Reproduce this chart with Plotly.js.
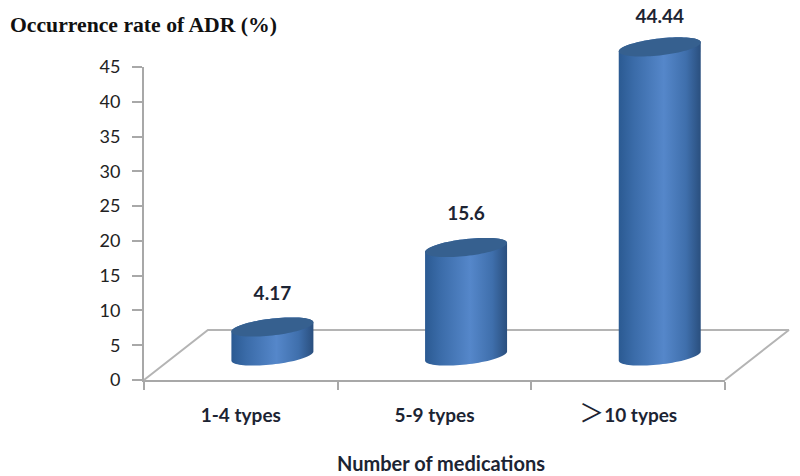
<!DOCTYPE html>
<html>
<head>
<meta charset="utf-8">
<script src="https://cdn.plot.ly/plotly-3.0.1.min.js"></script>
<style>html,body{margin:0;padding:0;background:#fff}</style>
</head>
<body>
<div id="chart" style="width:800px;height:476px"></div>
<script>
var categories = ['1-4 types', '5-9 types', '>10 types'];
var tickLabels = ['1-4 types', '5-9 types', '<span style="font-family:\'Noto Sans CJK SC\';font-size:25px;font-weight:normal">＞</span>10 types'];
var values = [4.17, 15.6, 44.44];
var valueLabels = ['4.17', '15.6', '44.44'];
var yTicks = [0, 5, 10, 15, 20, 25, 30, 35, 40, 45];

// 3D look of the chart, in axis units
var shiftX = 0.163, baseY = 3.45, radiusX = 0.2117, radiusY = 1.22, tilt = 0.65;
var floorDepthX = 0.33, floorDepthY = 7.18;
var labelGaps = [4.6, 4.6, 4.1];

// page frame of the main axes
var W = 800, H = 476, L = 144, R = 725, T = 67, B = 380;
var xRange = [-0.5, 2.5], yRange = [0, 45];
var unitX = (R - L) / (xRange[1] - xRange[0]), unitY = (B - T) / (yRange[1] - yRange[0]);

function ell(cx, cy, from, to, n) {
  var xs = [], ys = [];
  for (var i = 0; i <= n; i++) {
    var t = from + (to - from) * i / n;
    xs.push(cx + radiusX * Math.cos(t));
    ys.push(cy + radiusY * Math.sin(t) + tilt * Math.cos(t));
  }
  return {x: xs, y: ys};
}

var traces = [];
// real bars: carry categories and values, sit under the rounded shading
traces.push({
  type: 'bar', x: categories, y: values, base: baseY,
  width: 0.38, offset: -0.19 + shiftX,
  marker: {color: 'rgba(74,120,181,0)', line: {width: 0}},
  hoverinfo: 'skip', showlegend: false
});
// floor
traces.push({
  type: 'scatter', mode: 'lines', xaxis: 'x2', yaxis: 'y2',
  x: [-0.5, -0.5 + floorDepthX, 2.5 + floorDepthX, 2.5],
  y: [0, floorDepthY, floorDepthY, 0],
  line: {color: '#b4b4b4', width: 2}, hoverinfo: 'skip', showlegend: false
});
values.forEach(function (v, i) {
  var cx = i + shiftX, top = baseY + v;
  var low = ell(cx, baseY, Math.PI, 2 * Math.PI, 40);
  var up = ell(cx, top, 0, Math.PI, 40);
  traces.push({
    type: 'scatter', mode: 'none', xaxis: 'x2', yaxis: 'y2',
    x: low.x.concat(up.x), y: low.y.concat(up.y), fill: 'toself',
    fillgradient: {type: 'horizontal', colorscale: [
      [0, '#2b5a92'], [0.18, '#3a6ba8'], [0.55, '#5587ca'], [0.82, '#3f6fac'], [1, '#2a4f7e']
    ]},
    hoverinfo: 'skip', showlegend: false
  });
  var cap = ell(cx, top, 0, 2 * Math.PI, 80);
  traces.push({
    type: 'scatter', mode: 'none', xaxis: 'x2', yaxis: 'y2',
    x: cap.x, y: cap.y, fill: 'toself', fillcolor: '#36608f',
    hoverinfo: 'skip', showlegend: false
  });
});
// value labels
traces.push({
  type: 'scatter', mode: 'text', xaxis: 'x2', yaxis: 'y2',
  x: values.map(function (v, i) { return i + shiftX; }),
  y: values.map(function (v, i) { return v + baseY + labelGaps[i]; }),
  text: valueLabels, textposition: 'middle center',
  textfont: {family: 'Lato', size: 19, color: '#1c2433', weight: 700},
  hoverinfo: 'skip', showlegend: false
});

var layout = {
  width: W, height: H,
  paper_bgcolor: '#fff', plot_bgcolor: 'rgba(0,0,0,0)',
  margin: {l: 0, r: 0, t: 0, b: 0},
  showlegend: false,
  title: {
    text: 'Occurrence rate of ADR (%)', x: 10 / W, xanchor: 'left', xref: 'paper',
    y: 1 - 24.5 / H, yanchor: 'middle',
    font: {family: 'Liberation Serif', size: 21.7, color: '#111', weight: 700}
  },
  annotations: [{
    text: 'Number of medications', xref: 'paper', yref: 'paper',
    x: 441 / W, y: 1 - 463 / H, xanchor: 'center', yanchor: 'middle', showarrow: false,
    font: {family: 'Lato', size: 20, color: '#1c2433', weight: 700}
  }],
  xaxis: {
    domain: [L / W, R / W], anchor: 'y',
    type: 'category', categoryorder: 'array', categoryarray: categories,
    tickmode: 'array', tickvals: categories, ticktext: tickLabels,
    tickson: 'boundaries', ticks: 'outside', ticklen: 8, tickwidth: 2, tickcolor: '#a8a8a8',
    showline: true, linecolor: '#a8a8a8', linewidth: 2, showgrid: false, zeroline: false,
    tickfont: {family: 'Lato', size: 19, color: '#1c2433', weight: 700},
    ticklabelstandoff: 17,
    range: xRange
  },
  yaxis: {
    domain: [(H - B) / H, (H - T) / H], anchor: 'x',
    range: yRange, tickmode: 'array', tickvals: yTicks,
    ticks: 'outside', ticklen: 10, tickwidth: 2, tickcolor: '#a8a8a8',
    showline: true, linecolor: '#a8a8a8', linewidth: 2, showgrid: false, zeroline: false,
    tickfont: {family: 'Lato', size: 18, color: '#222'},
    ticklabelstandoff: 8
  },
  // full-page axes on the same scale, so the 3D parts can reach past the main frame
  xaxis2: {
    domain: [0, 1], anchor: 'y2', visible: false,
    range: [xRange[0] - L / unitX, xRange[1] + (W - R) / unitX]
  },
  yaxis2: {
    domain: [0, 1], anchor: 'x2', visible: false,
    range: [yRange[0] - (H - B) / unitY, yRange[1] + T / unitY]
  }
};
Plotly.newPlot('chart', traces, layout, {displayModeBar: false, staticPlot: true});
</script>
</body>
</html>
